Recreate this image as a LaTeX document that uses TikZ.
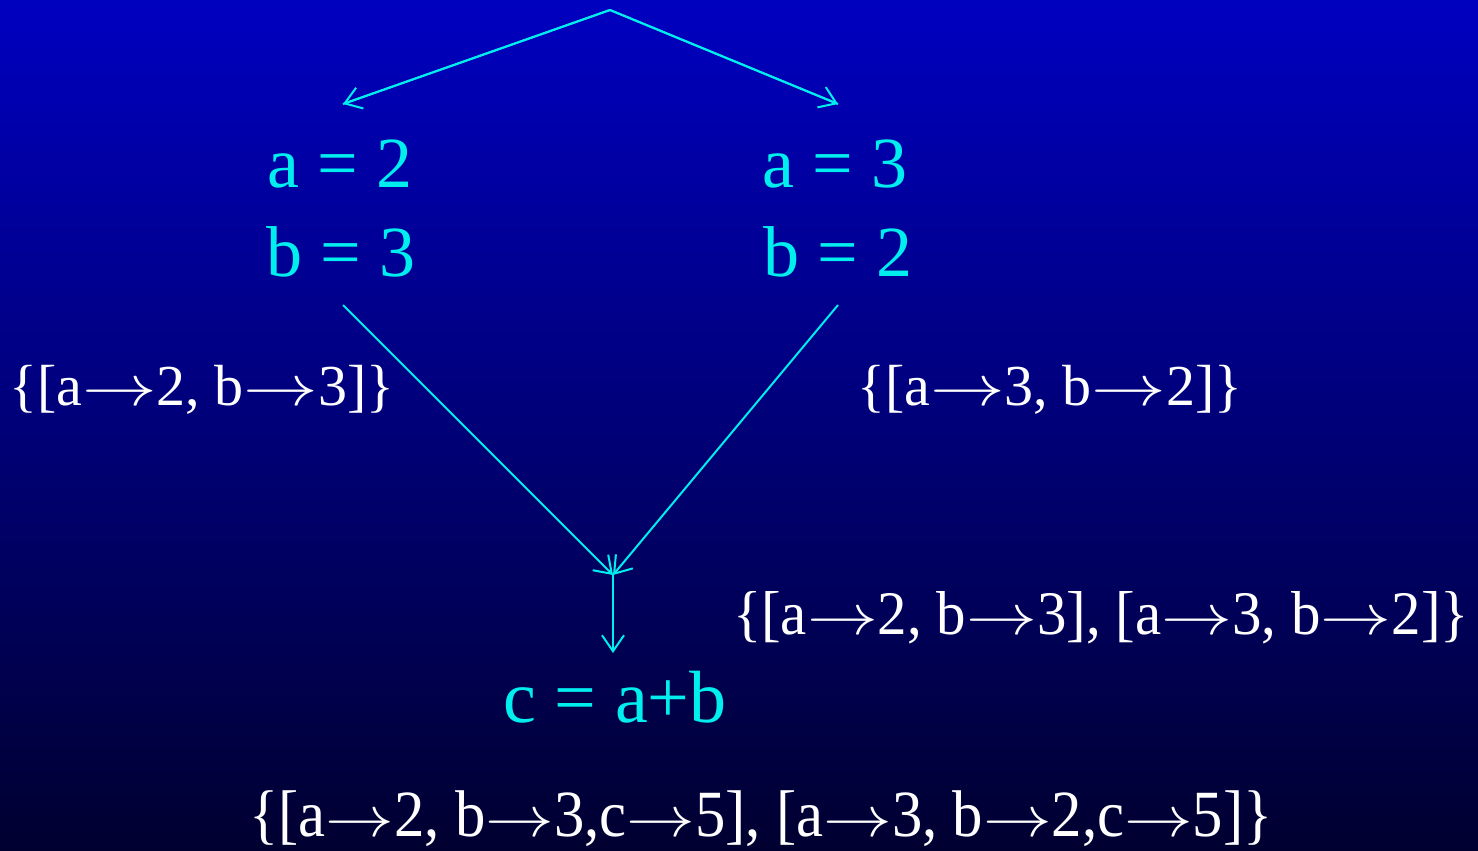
\documentclass[tikz,border=0pt]{standalone}
\usepackage{fontspec}
\usepackage{graphicx}
\setmainfont{Liberation Serif}
\usetikzlibrary{arrows.meta}
\definecolor{cyantext}{RGB}{0,238,238}
\definecolor{bgtop}{RGB}{0,0,192}
\definecolor{bgbot}{RGB}{0,0,48}
\newcommand{\mapsarr}{\scalebox{1.5}[1.15]{$\rightarrow$}}
\begin{document}
\begin{tikzpicture}[x=0.5pt,y=-0.5pt,
  cy/.style={text=cyantext,font=\fontsize{36}{40}\selectfont,inner sep=0pt,anchor=base},
  wt/.style={text=white,font=\fontsize{29}{33}\selectfont,inner sep=0pt,anchor=base},
  conn/.style={draw=cyantext,line width=1pt,-{Straight Barb[length=8pt,width=11pt,line width=1pt]}},
  plain/.style={draw=cyantext,line width=1pt}]
\shade[top color=bgtop,bottom color=bgbot] (0,0) rectangle (1478,851);
\useasboundingbox (0,0) rectangle (1478,851);
% texts
\node[cy] (a2) at (340,187) {a = 2};
\node[cy] (b3) at (341,276) {b = 3};
\node[cy] (a3) at (835,187) {a = 3};
\node[cy] (b2) at (838,276) {b = 2};
\node[cy,font=\fontsize{37}{40}\selectfont] (c) at (615,722) {c = a+b};
\node[wt] (sL) at (202,405) {\{[a\mapsarr2, b\mapsarr3]\}};
\node[wt] (sR) at (1050,405) {\{[a\mapsarr3, b\mapsarr2]\}};
\node[wt,xscale=0.95,font=\fontsize{31}{33}\selectfont] (sM) at (1101,634) {\{[a\mapsarr2, b\mapsarr3], [a\mapsarr3, b\mapsarr2]\}};
\node[wt,xscale=0.92,font=\fontsize{33}{36}\selectfont] (sB) at (761,836) {\{[a\mapsarr2, b\mapsarr3,c\mapsarr5], [a\mapsarr3, b\mapsarr2,c\mapsarr5]\}};
% connector points
\coordinate (top) at (610,10);
\coordinate (Lin) at (343,104);
\coordinate (Rin) at (838,104);
\coordinate (Lout) at (343,305);
\coordinate (Rout) at (838,305);
\coordinate (join) at (613,575);
\coordinate (cin) at (613,653);
\draw[plain] (Lin) -- (top) -- (Rin);
\draw[conn] (top) -- (Lin);
\draw[conn] (top) -- (Rin);
\draw[conn] (Lout) -- (join);
\draw[conn] (Rout) -- (join);
\draw[conn] (join) -- (cin);
\end{tikzpicture}
\end{document}
